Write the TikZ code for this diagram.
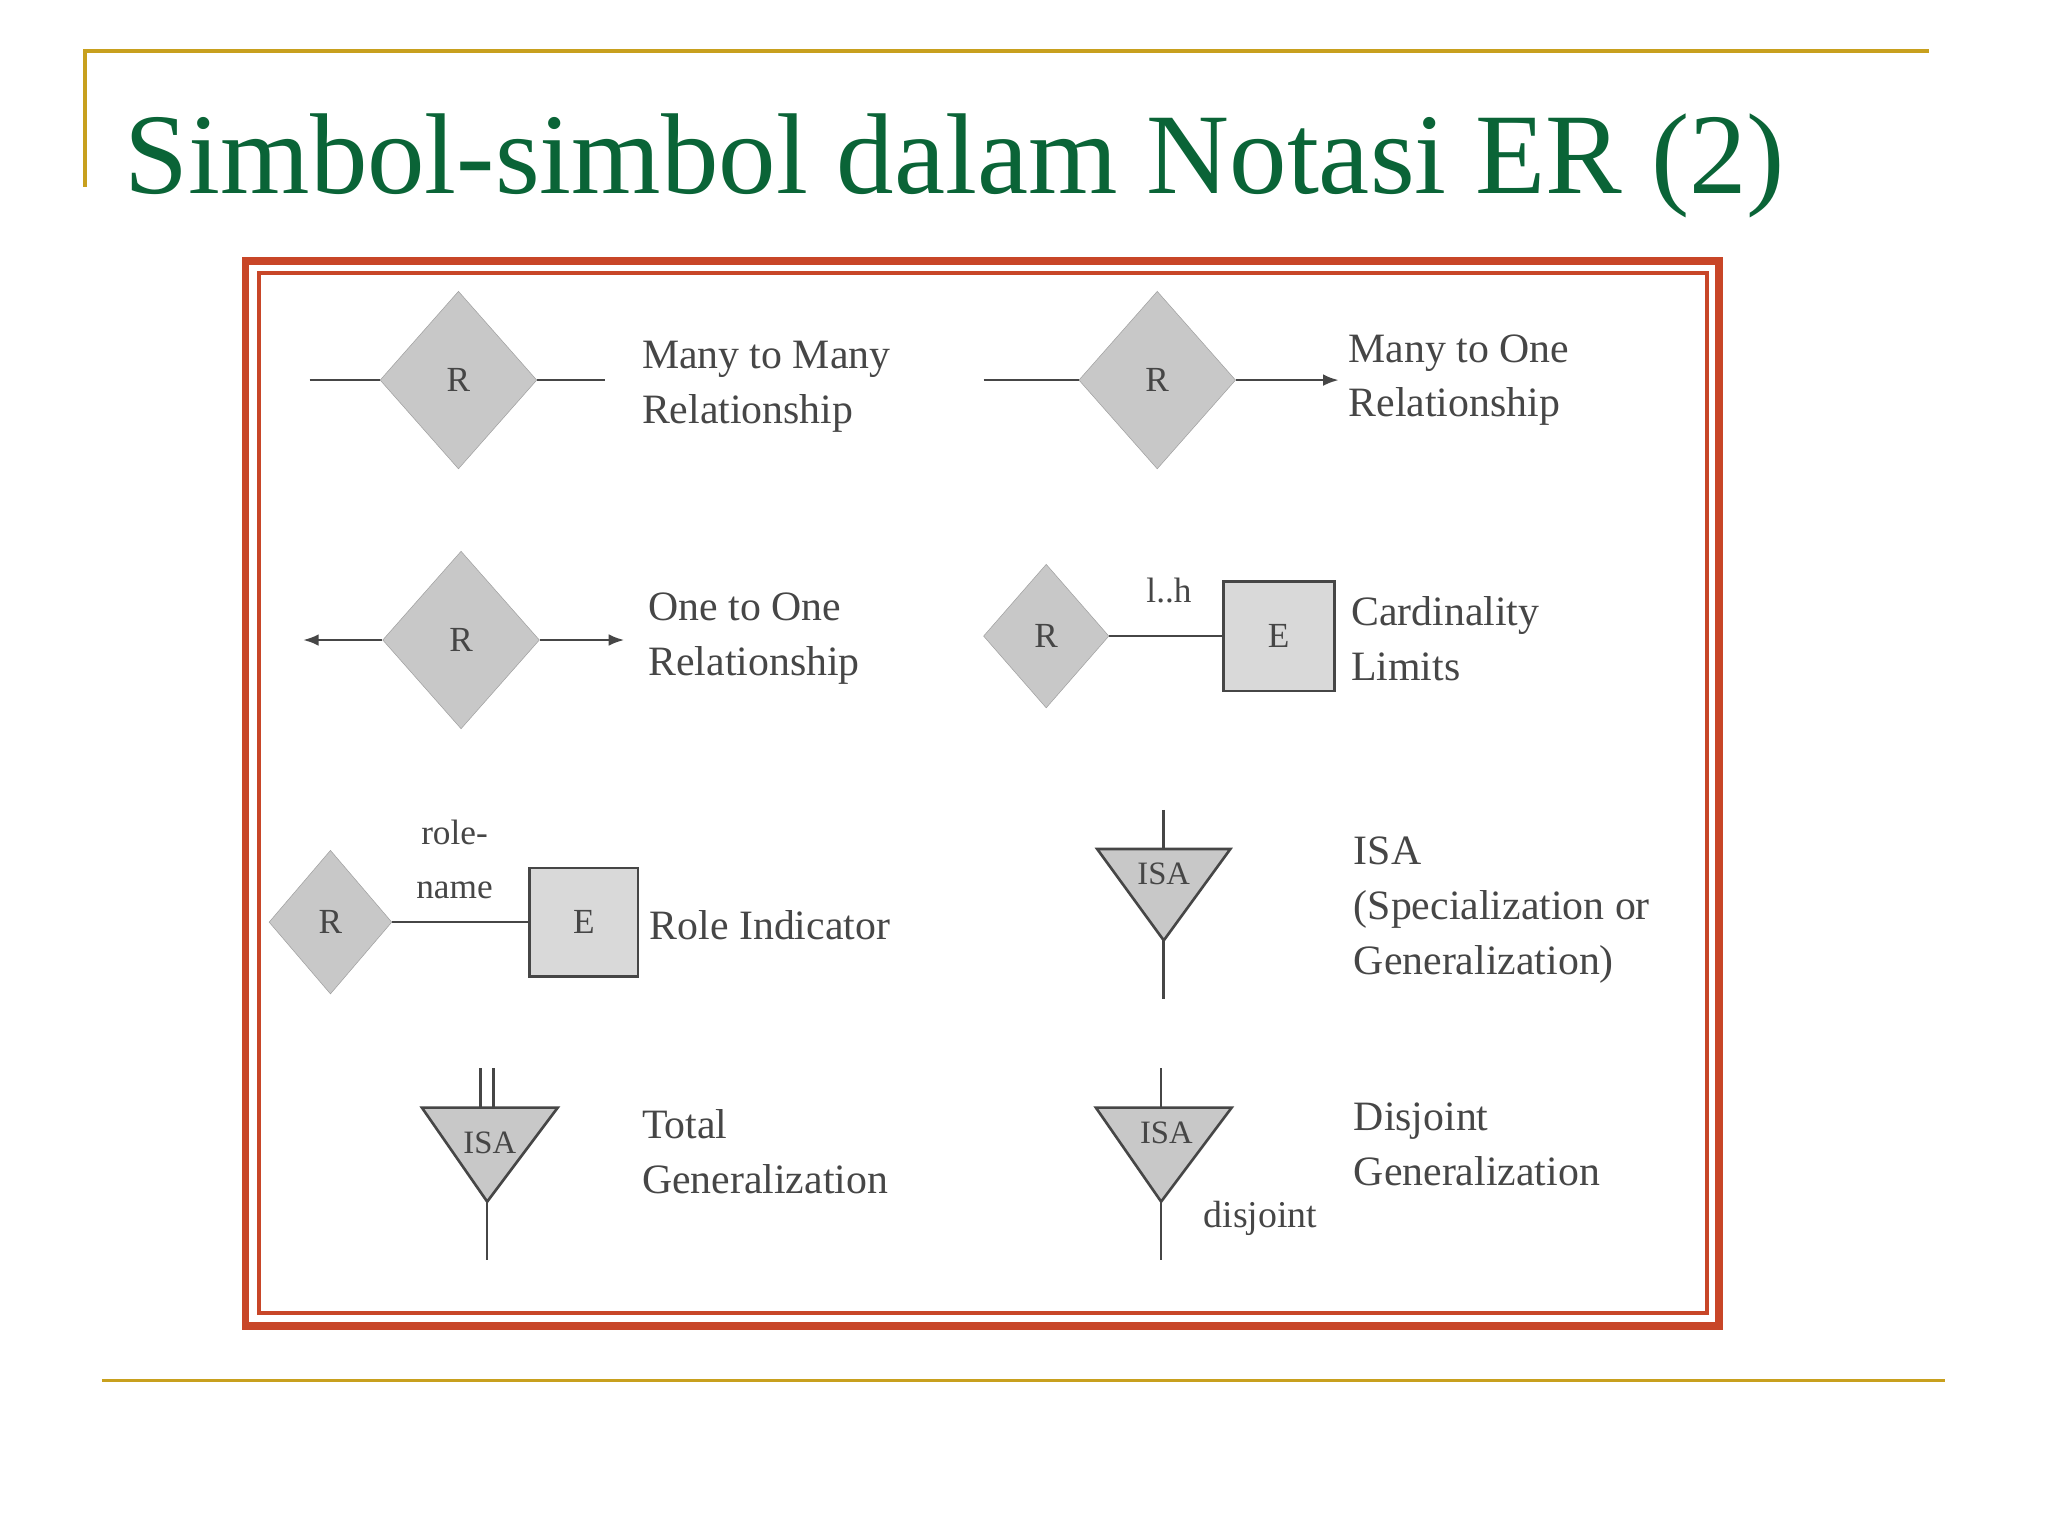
\documentclass[tikz,border=0pt]{standalone}
\usepackage{fontspec}
\setmainfont{Liberation Serif}
\usetikzlibrary{shapes.geometric,arrows.meta}
\definecolor{gold}{RGB}{200,160,30}
\definecolor{ttl}{RGB}{10,100,55}
\definecolor{frm}{RGB}{200,70,40}
\definecolor{shp}{RGB}{200,200,200}
\definecolor{edg}{RGB}{160,160,160}
\definecolor{txt}{RGB}{70,70,70}
\tikzset{
 rel/.style={diamond,aspect=0.88,fill=shp,draw=edg,inner sep=0pt,font=\fontsize{27}{28}\selectfont,text=txt},
 ent/.style={rectangle,fill=shp!70,draw=txt,line width=2pt,inner sep=0pt,font=\fontsize{27}{28}\selectfont,text=txt},
 lbl/.style={anchor=west,align=left,font=\fontsize{32}{42}\selectfont,text=txt},
 ln/.style={draw=txt,line width=2pt},
 isa/.style={fill=shp,draw=txt,line width=2pt}
}
\begin{document}
\begin{tikzpicture}[x=1pt,y=-1pt]
\useasboundingbox (0,0) rectangle (1568,1176);
\fill[white] (0,0) rectangle (1568,1176);
\draw[gold,line width=2.5pt] (65,143) -- (65,39) -- (1477,39);
\draw[gold,line width=2.5pt] (78,1057) -- (1489,1057);
\node[anchor=base west,text=ttl,font=\fontsize{88}{96}\selectfont] (title) at (92,148) {Simbol-simbol dalam Notasi ER (2)};
\draw[frm,line width=6pt] (188,200) rectangle (1316,1015);
\draw[frm,line width=3pt] (198,209) rectangle (1307,1005);
% row 1
\node[rel,minimum width=120pt,minimum height=136pt] (d1) at (351,291) {R};
\coordinate (d1l) at (237,291); \coordinate (d1r) at (463,291);
\draw[ln] (d1l) -- (d1.west); \draw[ln] (d1.east) -- (d1r);
\node[lbl] (t1) at (488,296) {Many to Many\\Relationship};
\node[rel,minimum width=120pt,minimum height=136pt] (d2) at (886,291) {R};
\coordinate (d2l) at (753,291); \coordinate (d2r) at (1025,291);
\draw[ln] (d2l) -- (d2.west); \draw[ln,-{Latex[length=12pt,width=9pt]}] (d2.east) -- (d2r);
\node[lbl] (t2) at (1029,291) {Many to One\\Relationship};
% row 2
\node[rel,minimum width=120pt,minimum height=136pt] (d3) at (353,490) {R};
\coordinate (d3l) at (232,490); \coordinate (d3r) at (478,490);
\draw[ln,-{Latex[length=12pt,width=9pt]}] (d3.west) -- (d3l);
\draw[ln,-{Latex[length=12pt,width=9pt]}] (d3.east) -- (d3r);
\node[lbl] (t3) at (493,489) {One to One\\Relationship};
\node[rel,minimum width=96pt,minimum height=110pt] (d4) at (801,487) {R};
\node[ent,minimum width=85pt,minimum height=84pt] (e4) at (979,487) {E};
\draw[ln] (d4.east) -- (e4.west);
\node[font=\fontsize{27}{28}\selectfont,text=txt] (lh) at (895,452) {l..h};
\node[lbl] (t4) at (1031,489) {Cardinality\\Limits};
% row 3
\node[rel,minimum width=94pt,minimum height=110pt] (d5) at (253,706) {R};
\node[ent,minimum width=83pt,minimum height=83pt] (e5) at (447,706) {E};
\draw[ln] (d5.east) -- (e5.west);
\node[align=center,font=\fontsize{27}{42}\selectfont,text=txt] (rn) at (348,658) {role-\\name};
\node[lbl] (t5) at (494,708) {Role Indicator};
\draw[isa] (840,650) -- (942,650) -- (891,720) -- cycle;
\node[font=\fontsize{25}{26}\selectfont,text=txt] (i1) at (891,669) {ISA};
\coordinate (i1t) at (891,620); \coordinate (i1b) at (891,765);
\draw[ln] (i1t) -- (891,650); \draw[ln] (891,720) -- (i1b);
\node[lbl] (t6) at (1033,697) {ISA\\(Specialization or\\Generalization)};
% row 4
\draw[isa] (323,848) -- (427,848) -- (373,920) -- cycle;
\node[font=\fontsize{25}{26}\selectfont,text=txt] (i2) at (375,875) {ISA};
\draw[ln] (368,818) -- (368,848); \draw[ln] (378,818) -- (378,848);
\draw[ln] (373,920) -- (373,965);
\node[lbl] (t7) at (488,882) {Total\\Generalization};
\draw[isa] (839,848) -- (943,848) -- (889,920) -- cycle;
\node[font=\fontsize{25}{26}\selectfont,text=txt] (i3) at (893,867) {ISA};
\draw[ln] (889,818) -- (889,848); \draw[ln] (889,920) -- (889,965);
\node[font=\fontsize{29}{30}\selectfont,text=txt] (dj) at (965,933) {disjoint};
\node[lbl] (t8) at (1033,876) {Disjoint\\Generalization};
\end{tikzpicture}
\end{document}
